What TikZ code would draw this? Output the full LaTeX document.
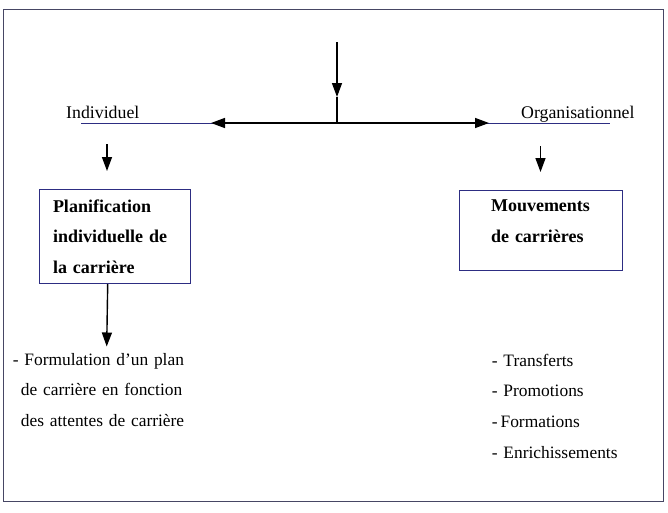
\documentclass[tikz,border=0pt]{standalone}
\usepackage{fontspec}
\setmainfont{Liberation Serif}
\usetikzlibrary{arrows.meta}
\definecolor{framec}{RGB}{70,70,100}
\definecolor{navy}{RGB}{45,45,130}
\begin{document}
\begin{tikzpicture}[x=1pt,y=-1pt,
  txt/.style={font=\fontsize{17.8}{31}\selectfont, inner sep=0pt, anchor=base west},
  listtxt/.style={font=\fontsize{17.4}{30.8}\selectfont, inner sep=0pt, anchor=base west, text width=#1, align=left},
  boxnode/.style={draw=navy, line width=1pt, anchor=north west, align=left,
    font=\fontsize{18}{30.5}\selectfont\bfseries},
  arr/.style={line width=1.4pt, -{Triangle[length=14pt,width=10pt]}},
  plain/.style={line width=1.4pt},
]
\useasboundingbox (0,0) rectangle (668,512);
% frame
\draw[framec, line width=1.2pt] (3.5,9.5) rectangle (663.5,501.5);

% top structure
\coordinate (src) at (337,42);
\coordinate (mid) at (337,97);
\coordinate (junc) at (337,123);
\coordinate (lend) at (81,123);
\coordinate (rend) at (610,123);
\coordinate (ltip) at (211,123);
\coordinate (rtip) at (489,123);
\draw[navy, line width=1pt] (lend) -- (rend);
\draw[plain] (mid) -- (junc);
\draw[arr] (src) -- (mid);
\draw[arr] (junc) -- (ltip);
\draw[arr] (junc) -- (rtip);

\node[txt] (indiv) at (66,118) {Individuel};
\node[txt] (orga) at (521,118) {Organisationnel};

% boxes
\node[boxnode, minimum width=151pt, minimum height=94pt, inner xsep=14pt, text width=123pt]
  (plan) at (38.5,189) {Planification\\individuelle de\\la carrière};
\node[boxnode, minimum width=163pt, minimum height=80pt, inner xsep=31.5pt, text width=100pt, text depth=49pt]
  (mouv) at (459,190) {Mouvements\\de carrières};

% small arrows above boxes
\coordinate (la) at (107,144);
\coordinate (lb) at (107,171);
\coordinate (ra) at (540.5,146);
\coordinate (rb) at (540.5,172);
\draw[arr] (la) -- (lb);
\draw[arr] (ra) -- (rb);

% lists
\node[listtxt=200pt] (form) at (12.7,365)
  {- Formulation d’un plan\\\hspace*{8pt}de carrière en fonction\\\hspace*{8pt}des attentes de carrière};
\node[listtxt=160pt] (items) at (491.7,366)
  {- Transferts\\- Promotions\\-\,Formations\\- Enrichissements};

% arrow from left box to its list
\coordinate (fa) at (106.7,346.5);
\draw[arr] ([xshift=-6.8pt]plan.south) -- (fa);
\end{tikzpicture}
\end{document}
